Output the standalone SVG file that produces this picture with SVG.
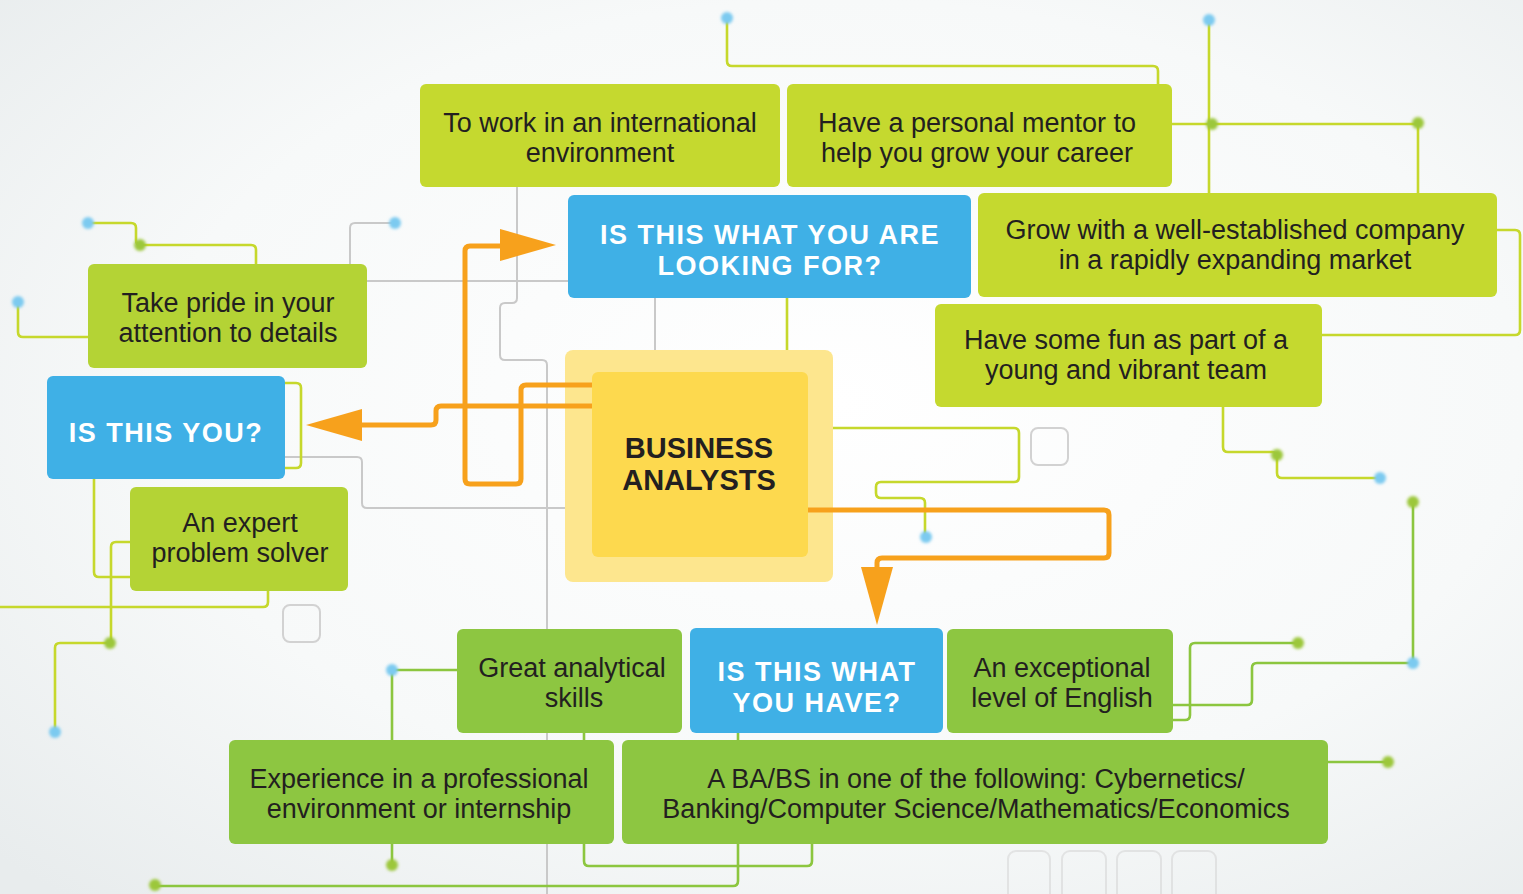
<svg xmlns="http://www.w3.org/2000/svg" width="1523" height="894" viewBox="0 0 1523 894">
<defs>
<radialGradient id="bg" cx="0.55" cy="0.45" r="0.75">
<stop offset="0" stop-color="#ffffff"/>
<stop offset="0.6" stop-color="#f7f9f9"/>
<stop offset="1" stop-color="#e8eced"/>
</radialGradient>
<filter id="glow" x="-1" y="-1" width="3" height="3"><feGaussianBlur stdDeviation="1.6"/></filter>
<style>
.lime{fill:#c5d92f}
.lime2{fill:#b4d335}
.green{fill:#8dc641}
.blue{fill:#3fb0e6}
.t{font-family:"Liberation Sans",Arial,sans-serif;font-size:27px;fill:#231f20;text-anchor:middle}
.h{font-family:"Liberation Sans",Arial,sans-serif;font-size:27px;letter-spacing:1.5px;font-weight:bold;fill:#ffffff;text-anchor:middle}
.ba{font-family:"Liberation Sans",Arial,sans-serif;font-size:29px;font-weight:bold;fill:#231f20;text-anchor:middle}
.gl{fill:none;stroke:#c9c9c9;stroke-width:2}
.ll{fill:none;stroke:#c6d82c;stroke-width:2.6}
.gr{fill:none;stroke:#8cc63f;stroke-width:2.6}
.or{fill:none;stroke:#f7a11c;stroke-width:5;stroke-linejoin:round}
.oh{fill:#f7a11c}
.bd{fill:#7ccaf0;filter:url(#glow)}
.gd{fill:#9cc73a;filter:url(#glow)}
.sq{fill:none;stroke:#d2d2d2;stroke-width:2}
</style>
</defs>
<rect width="1523" height="894" fill="url(#bg)"/>

<g id="connectors">
<!-- gray lines -->
<path class="gl" d="M517,187 V298 q0,5 -5,5 H505 q-5,0 -5,5 V355 q0,5 5,5 H542 q5,0 5,5 V894"/>
<path class="gl" d="M367,281 H568"/>
<path class="gl" d="M350,264 V228 q0,-5 5,-5 H392"/>
<path class="gl" d="M285,457 H357 q5,0 5,5 V503 q0,5 5,5 H565"/>
<path class="gl" d="M655,298 V350"/>
<rect class="sq" x="283" y="605" width="37" height="37" rx="7"/>
<rect class="sq" x="1031" y="428" width="37" height="37" rx="7"/>
<g opacity="0.5">
<rect class="sq" x="1008" y="851" width="42" height="60" rx="8"/>
<rect class="sq" x="1062" y="851" width="44" height="60" rx="8"/>
<rect class="sq" x="1117" y="851" width="44" height="60" rx="8"/>
<rect class="sq" x="1172" y="851" width="44" height="60" rx="8"/>
</g>
<!-- lime lines -->
<path class="ll" d="M727,18 V61 q0,5 5,5 H1153 q5,0 5,5 V84"/>
<path class="ll" d="M1209,20 V193"/>
<path class="ll" d="M1172,124 H1418 V193"/>
<path class="ll" d="M1497,230 H1515 q5,0 5,5 V330 q0,5 -5,5 H1322"/>
<path class="ll" d="M1223,407 V447 q0,5 5,5 H1272 q5,0 5,5 V473 q0,5 5,5 H1380"/>
<path class="ll" d="M88,223 H131 q5,0 5,5 V240 q0,5 5,5 H251 q5,0 5,5 V264"/>
<path class="ll" d="M18,302 V332 q0,5 5,5 H88"/>
<path class="ll" d="M285,383 H296 q5,0 5,5 V463 q0,5 -5,5 H285"/>
<path class="ll" d="M94,479 V572 q0,5 5,5 H130"/>
<path class="ll" d="M130,542 H116 q-5,0 -5,5 V643 H60 q-5,0 -5,5 V732"/>
<path class="ll" d="M0,607 H263 q5,0 5,-5 V591"/>
<path class="ll" d="M808,428 H1014 q5,0 5,5 V477 q0,5 -5,5 H881 q-5,0 -5,5 V493 q0,5 5,5 H920 q5,0 5,5 V537"/>
<path class="ll" d="M787,298 V373"/>
<!-- green lines -->
<path class="gr" d="M457,670 H392 V740"/>
<path class="gr" d="M392,844 V865"/>
<path class="gr" d="M584,733 V861 q0,5 5,5 H807 q5,0 5,-5 V844"/>
<path class="gr" d="M738,733 V881 q0,5 -5,5 H155"/>
<path class="gr" d="M1173,705 H1247 q5,0 5,-5 V668 q0,-5 5,-5 H1413 V502"/>
<path class="gr" d="M1173,720 H1185 q5,0 5,-5 V648 q0,-5 5,-5 H1298"/>
<path class="gr" d="M1328,762 H1388"/>
<!-- dots -->
<circle class="bd" cx="727" cy="18" r="6"/>
<circle class="bd" cx="1209" cy="20" r="6"/>
<circle class="bd" cx="88" cy="223" r="6"/>
<circle class="bd" cx="18" cy="302" r="6"/>
<circle class="bd" cx="395" cy="223" r="6"/>
<circle class="bd" cx="1380" cy="478" r="6"/>
<circle class="bd" cx="926" cy="537" r="6"/>
<circle class="bd" cx="55" cy="732" r="6"/>
<circle class="bd" cx="392" cy="670" r="6"/>
<circle class="bd" cx="1413" cy="663" r="6"/>
<circle class="gd" cx="1212" cy="124" r="6"/>
<circle class="gd" cx="1418" cy="123" r="6"/>
<circle class="gd" cx="140" cy="245" r="6"/>
<circle class="gd" cx="1277" cy="455" r="6"/>
<circle class="gd" cx="1413" cy="502" r="6"/>
<circle class="gd" cx="110" cy="643" r="6"/>
<circle class="gd" cx="1298" cy="643" r="6"/>
<circle class="gd" cx="1388" cy="762" r="6"/>
<circle class="gd" cx="392" cy="865" r="6"/>
<circle class="gd" cx="155" cy="885" r="6"/>
</g>

<g id="node-business-analysts">
<rect x="565" y="350" width="268" height="232" rx="8" fill="#fde68e"/>
<rect x="592" y="372" width="216" height="185" rx="6" fill="#fdd94e"/>
<text class="ba" x="699" y="458">BUSINESS</text>
<text class="ba" x="699" y="490">ANALYSTS</text>
</g>

<g id="orange-arrows">
<path class="or" d="M592,406 H441 q-5,0 -5,5 V420 q0,5 -5,5 H360"/>
<polygon class="oh" points="306,425 362,409 362,441"/>
<path class="or" d="M592,385 H526 q-5,0 -5,5 V479 q0,5 -5,5 H470 q-5,0 -5,-5 V251 q0,-5 5,-5 H505"/>
<polygon class="oh" points="556,245 500,229 500,261"/>
<path class="or" d="M808,510 H1104 q5,0 5,5 V553 q0,5 -5,5 H882 q-5,0 -5,5 V572"/>
<polygon class="oh" points="877,625 861,567 893,567"/>
</g>

<g id="node-international">
<rect class="lime" x="420" y="84" width="360" height="103" rx="6"/>
<text class="t" x="600" y="132">To work in an international</text>
<text class="t" x="600" y="162">environment</text>
</g>
<g id="node-mentor">
<rect class="lime" x="787" y="84" width="385" height="103" rx="6"/>
<text class="t" x="977" y="132">Have a personal mentor to</text>
<text class="t" x="977" y="162">help you grow your career</text>
</g>
<g id="node-looking">
<rect class="blue" x="568" y="195" width="403" height="103" rx="6"/>
<text class="h" x="770" y="244">IS THIS WHAT YOU ARE</text>
<text class="h" x="770" y="275">LOOKING FOR?</text>
</g>
<g id="node-grow">
<rect class="lime" x="978" y="193" width="519" height="104" rx="6"/>
<text class="t" x="1235" y="239">Grow with a well-established company</text>
<text class="t" x="1235" y="269">in a rapidly expanding market</text>
</g>
<g id="node-fun">
<rect class="lime" x="935" y="304" width="387" height="103" rx="6"/>
<text class="t" x="1126" y="349">Have some fun as part of a</text>
<text class="t" x="1126" y="379">young and vibrant team</text>
</g>
<g id="node-pride">
<rect class="lime2" x="88" y="264" width="279" height="104" rx="6"/>
<text class="t" x="228" y="312">Take pride in your</text>
<text class="t" x="228" y="342">attention to details</text>
</g>
<g id="node-is-this-you">
<rect class="blue" x="47" y="376" width="238" height="103" rx="6"/>
<text class="h" x="166" y="442">IS THIS YOU?</text>
</g>
<g id="node-expert">
<rect class="lime2" x="130" y="487" width="218" height="104" rx="6"/>
<text class="t" x="240" y="532">An expert</text>
<text class="t" x="240" y="562">problem solver</text>
</g>
<g id="node-analytical">
<rect class="green" x="457" y="629" width="225" height="104" rx="6"/>
<text class="t" x="572" y="677">Great analytical</text>
<text class="t" x="574" y="707">skills</text>
</g>
<g id="node-have">
<rect class="blue" x="690" y="628" width="253" height="105" rx="6"/>
<text class="h" x="817" y="681">IS THIS WHAT</text>
<text class="h" x="817" y="712">YOU HAVE?</text>
</g>
<g id="node-english">
<rect class="green" x="947" y="629" width="226" height="104" rx="6"/>
<text class="t" x="1062" y="677">An exceptional</text>
<text class="t" x="1062" y="707">level of English</text>
</g>
<g id="node-experience">
<rect class="green" x="229" y="740" width="385" height="104" rx="6"/>
<text class="t" x="419" y="788">Experience in a professional</text>
<text class="t" x="419" y="818">environment or internship</text>
</g>
<g id="node-degree">
<rect class="green" x="622" y="740" width="706" height="104" rx="6"/>
<text class="t" x="976" y="788">A BA/BS in one of the following: Cybernetics/</text>
<text class="t" x="976" y="818">Banking/Computer Science/Mathematics/Economics</text>
</g>
</svg>
